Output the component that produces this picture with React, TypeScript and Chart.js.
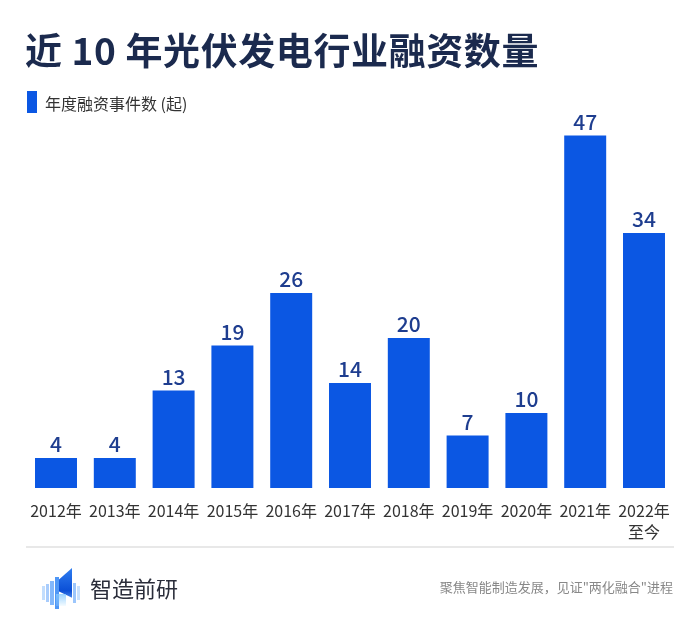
import React, { useEffect, useRef } from "react";
import { Chart, registerables } from "chart.js";

Chart.register(...registerables);

const categories: (string | string[])[] = [
  "2012年", "2013年", "2014年", "2015年", "2016年", "2017年",
  "2018年", "2019年", "2020年", "2021年", ["2022年", "至今"],
];
const financingCounts: number[] = [4, 4, 13, 19, 26, 14, 20, 7, 10, 47, 34];
const seriesName = "年度融资事件数 (起)";
const titleText = "近 10 年光伏发电行业融资数量";
const brandName = "智造前研";
const sloganText = "聚焦智能制造发展，见证\"两化融合\"进程";

const FONT = '"Noto Sans CJK SC", "Noto Sans", sans-serif';
const BAR_COLOR = "#0b57e3";
const LABEL_COLOR = "#1e3d8f";

const valueLabels = {
  id: "valueLabels",
  afterDatasetsDraw(chart: any) {
    const ctx = chart.ctx;
    const meta = chart.getDatasetMeta(0);
    ctx.save();
    ctx.font = `500 21px ${FONT}`;
    ctx.fillStyle = LABEL_COLOR;
    ctx.textAlign = "center";
    ctx.textBaseline = "alphabetic";
    meta.data.forEach((bar: any, i: number) => {
      const v = chart.data.datasets[0].data[i];
      ctx.fillText(String(v), bar.x, bar.y - 6);
    });
    ctx.restore();
  },
};

function Logo() {
  const bars = [
    { x: 0, y: 18, h: 14, c: "rgba(120,180,250,0.45)", w: 3 },
    { x: 4, y: 16, h: 18, c: "rgba(110,170,250,0.6)", w: 3 },
    { x: 8, y: 13, h: 24, c: "rgba(90,160,250,0.75)", w: 4 },
    { x: 13, y: 9, h: 32, c: "rgba(60,140,245,0.9)", w: 4 },
    { x: 31, y: 15, h: 20, c: "rgba(90,160,250,0.6)", w: 3 },
    { x: 35, y: 18, h: 14, c: "rgba(120,180,250,0.4)", w: 3 },
  ];
  return (
    <div style={{ position: "absolute", left: 42, top: 568, width: 42, height: 38 }}>
      {bars.map((b, i) => (
        <div key={i} style={{ position: "absolute", left: b.x, top: b.y, width: b.w, height: b.h, background: b.c }} />
      ))}
      <div
        style={{
          position: "absolute", left: 17, top: 0, width: 13, height: 38,
          background: "linear-gradient(180deg, #2f7df0 0%, #0b4fd6 60%, #8ec3ff 100%)",
          clipPath: "polygon(100% 0%, 100% 78%, 0% 62%, 0% 30%)",
        }}
      />
      <div
        style={{
          position: "absolute", left: 14, top: 26, width: 10, height: 12,
          background: "linear-gradient(180deg, rgba(130,200,255,0.8), rgba(200,235,255,0.2))",
        }}
      />
    </div>
  );
}

export default function App() {
  const canvasRef = useRef<HTMLCanvasElement | null>(null);

  useEffect(() => {
    if (!canvasRef.current) return;
    const chart = new Chart(canvasRef.current, {
      type: "bar",
      data: {
        labels: categories as any,
        datasets: [
          {
            label: seriesName,
            data: financingCounts,
            backgroundColor: BAR_COLOR,
            borderWidth: 0,
            categoryPercentage: 1,
            barPercentage: 0.714,
          },
        ],
      },
      options: {
        responsive: false,
        animation: false,
        maintainAspectRatio: false,
        layout: { padding: { left: 26.6, right: 26.6, top: 113, bottom: 78 } },
        plugins: {
          legend: { display: false },
          title: { display: false },
          tooltip: { enabled: false },
        },
        scales: {
          x: {
            grid: { display: false, drawTicks: false },
            border: { display: false },
            ticks: {
              color: "#333333",
              font: { family: FONT, size: 16, lineHeight: 1.3 },
              padding: 13,
              maxRotation: 0,
              autoSkip: false,
            },
            afterFit(scale: any) {
              scale.height = 60;
            },
          },
          y: {
            display: false,
            min: 0,
            max: 50,
          },
        },
      },
      plugins: [valueLabels],
    });
    return () => chart.destroy();
  }, []);

  return (
    <div style={{ position: "absolute", left: 0, top: 0, width: 700, height: 626, background: "#ffffff", fontFamily: FONT, overflow: "hidden" }}>
      <canvas ref={canvasRef} width={700} height={626} style={{ position: "absolute", left: 0, top: 0, width: 700, height: 626 }} />
      <div style={{ position: "absolute", left: 25, top: 24, fontSize: 37, fontWeight: 700, color: "#1b2a4e", lineHeight: "50px", whiteSpace: "nowrap", letterSpacing: 0.6 }}>
        {titleText}
      </div>
      <div style={{ position: "absolute", left: 27, top: 91, width: 10, height: 22, background: BAR_COLOR }} />
      <div style={{ position: "absolute", left: 45, top: 90, fontSize: 16, color: "#333333", lineHeight: "26px", whiteSpace: "nowrap" }}>
        {seriesName}
      </div>
      <div style={{ position: "absolute", left: 26, top: 546, width: 648, height: 2, background: "#e8e8e8" }} />
      <Logo />
      <div style={{ position: "absolute", left: 90, top: 571, fontSize: 22, color: "#2a2d3a", lineHeight: "32px", whiteSpace: "nowrap" }}>
        {brandName}
      </div>
      <div style={{ position: "absolute", right: 27, top: 577, fontSize: 13, color: "#888888", lineHeight: "20px", whiteSpace: "nowrap" }}>
        {sloganText}
      </div>
    </div>
  );
}
